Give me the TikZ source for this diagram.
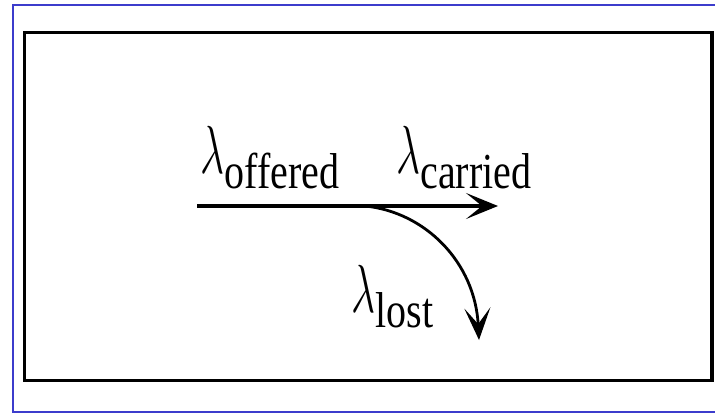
\documentclass[tikz,border=0pt]{standalone}
\usepackage{fix-cm}
\usepackage{fontspec}
\setmainfont{Liberation Serif}
\usetikzlibrary{arrows.meta}
\definecolor{frameBlue}{HTML}{3C3CCC}
\newcommand{\rate}[1]{\scalebox{1}[1.26]{\fontsize{27}{30}\selectfont\scalebox{0.78}[1]{$\lambda$}\raisebox{-6pt}{\fontsize{20}{22}\selectfont #1}}}
\tikzset{
  ratelabel/.style={inner sep=0pt, anchor=base west},
  flow/.style={line width=1.6pt, -{Stealth[length=16pt,width=13pt,inset=8pt]}}
}

\begin{document}
\begin{tikzpicture}[x=0.5pt,y=-0.5pt]
  \useasboundingbox (0,0) rectangle (715,412);
  \draw[frameBlue, line width=1pt] (13,5) rectangle (740,411.5);
  \draw[line width=1.6pt] (24.5,32.5) rectangle (712,380.3);
  % flow split
  \coordinate (in) at (197,206);
  \coordinate (split) at (365,206);
  \coordinate (out) at (498,206);
  \coordinate (drop) at (479,340);
  \draw[flow] (in) -- (out);
  \draw[flow, line width=1.4pt] (split) .. controls (425,212) and (475,262) .. (drop);
  \node[ratelabel] (offered) at (200,173) {\rate{offered}};
  \node[ratelabel] (carried) at (396,173) {\rate{carried}};
  \node[ratelabel] (lost) at (351,312) {\rate{lost}};
\end{tikzpicture}
\end{document}
